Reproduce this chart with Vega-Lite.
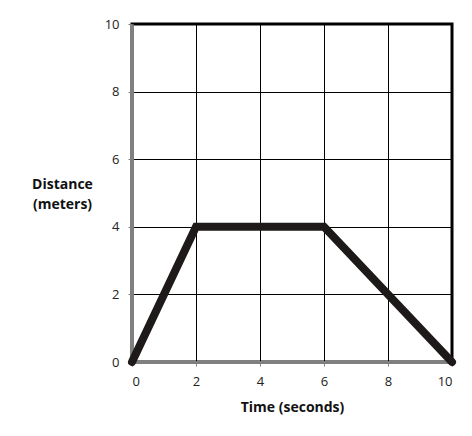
{
  "$schema": "https://vega.github.io/schema/vega-lite/v6.json",
  "width": 320,
  "height": 338,
  "autosize": "none",
  "padding": {"left": 132, "top": 24, "right": 20, "bottom": 74},
  "background": "white",
  "config": {
    "font": "Open Sans",
    "view": {"stroke": "black", "strokeWidth": 3},
    "axis": {
      "grid": true,
      "gridColor": "black",
      "gridWidth": 1,
      "gridOpacity": 1,
      "domainColor": "#808080",
      "domainWidth": 3,
      "tickColor": "#808080",
      "tickSize": 4,
      "tickWidth": 1,
      "labelFont": "Open Sans",
      "labelFontSize": 13,
      "labelColor": "#222222",
      "titleFont": "Open Sans",
      "titleFontSize": 14,
      "titleFontWeight": "bold",
      "titleColor": "#111111"
    }
  },
  "data": {
    "values": [
      {"time": 0, "distance": 0},
      {"time": 2, "distance": 4},
      {"time": 6, "distance": 4},
      {"time": 10, "distance": 0}
    ]
  },
  "mark": {"type": "line", "color": "#1e1a1a", "strokeWidth": 8, "strokeJoin": "miter", "strokeCap": "round", "clip": false},
  "encoding": {
    "x": {
      "field": "time",
      "type": "quantitative",
      "scale": {"domain": [0, 10], "nice": false},
      "axis": {"values": [0, 2, 4, 6, 8, 10], "title": "Time (seconds)", "labelPadding": 9, "titlePadding": 12}
    },
    "y": {
      "field": "distance",
      "type": "quantitative",
      "scale": {"domain": [0, 10], "nice": false},
      "axis": {
        "values": [0, 2, 4, 6, 8, 10],
        "title": ["Distance", "(meters)"],
        "titleAngle": 0,
        "titleAlign": "center",
        "titleBaseline": "top",
        "titleX": -70,
        "titleY": 153,
        "titleLineHeight": 20,
        "labelPadding": 9
      }
    }
  }
}
